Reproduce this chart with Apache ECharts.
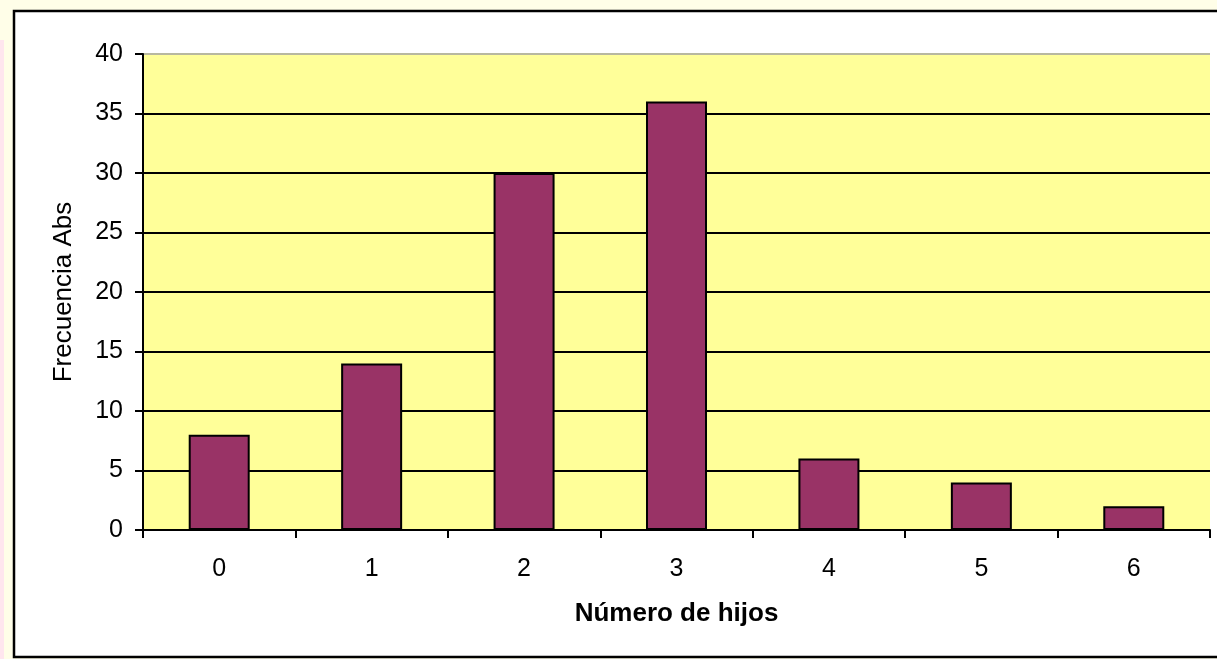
<!DOCTYPE html>
<html>
<head>
<meta charset="utf-8">
<script src="https://cdn.jsdelivr.net/npm/echarts@6/dist/echarts.min.js"></script>
<style>
html,body{margin:0;padding:0;background:#FFFEE8;overflow:hidden;}
#strip{position:absolute;left:0;top:40px;width:4px;height:619px;background:#FFE6EE;}
#c{position:absolute;left:0;top:0;width:1217px;height:659px;}
</style>
</head>
<body>
<div id="strip"></div>
<div id="c"></div>
<script>
const categories = ['0','1','2','3','4','5','6'];
const frecuencia = [8, 14, 30, 36, 6, 4, 2];
const yTicks = [0, 5, 10, 15, 20, 25, 30, 35, 40];

const chart = echarts.init(document.getElementById('c'), null, {renderer:'canvas'});
const FONT = 'Liberation Sans, Arial, sans-serif';
const splitColors = yTicks.map((v,i)=> i === yTicks.length-1 ? '#B8B8A0' : '#000000');
chart.setOption({
  backgroundColor: 'transparent',
  animation: false,
  graphic: [{
    type: 'rect', z: -10,
    shape: {x: 14, y: 11, width: 1260, height: 646},
    style: {fill: '#FFFFFF', stroke: '#000000', lineWidth: 2.5}
  }],
  grid: {
    left: 143, top: 54, right: 7, bottom: 129,
    show: true, backgroundColor: '#FFFF99', borderWidth: 0
  },
  xAxis: {
    type: 'category',
    data: categories,
    name: 'Número de hijos',
    nameLocation: 'middle',
    nameGap: 71,
    nameTextStyle: {fontFamily: FONT, fontSize: 26, fontWeight: 'bold', color: '#000'},
    axisLine: {show: true, lineStyle: {color: '#000', width: 2}},
    axisTick: {show: true, alignWithLabel: false, interval: 0, length: 8, lineStyle: {color: '#000', width: 2}},
    axisLabel: {fontFamily: FONT, fontSize: 25, color: '#000', margin: 27},
    splitLine: {show: false}
  },
  yAxis: {
    type: 'value',
    min: 0, max: 40, interval: 5,
    name: 'Frecuencia Abs',
    nameLocation: 'middle',
    nameGap: 66,
    nameTextStyle: {fontFamily: FONT, fontSize: 26, color: '#000'},
    axisLine: {show: true, lineStyle: {color: '#000', width: 2}},
    axisTick: {show: true, length: 8, lineStyle: {color: '#000', width: 2}},
    axisLabel: {fontFamily: FONT, fontSize: 25, color: '#000', margin: 20,
      formatter: v => yTicks.includes(v) ? String(v) : ''},
    splitLine: {show: true, lineStyle: {color: splitColors, width: 2}}
  },
  series: [{
    type: 'bar',
    data: frecuencia,
    barWidth: 61,
    itemStyle: {color: '#993366', borderColor: '#000', borderWidth: 2}
  }]
});
</script>
</body>
</html>
